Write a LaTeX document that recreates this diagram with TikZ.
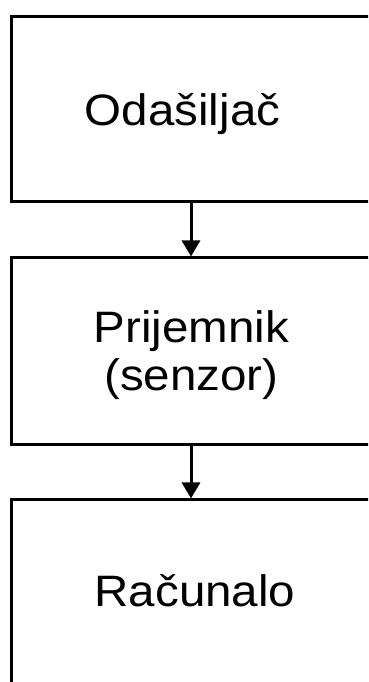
\documentclass[tikz,border=0pt]{standalone}
\usepackage{fontspec}
\setmainfont{Liberation Sans}[FakeStretch=1.08]
\usetikzlibrary{arrows.meta}
\begin{document}
\begin{tikzpicture}[x=1pt,y=1pt,
  blk/.style={draw=black, line width=3pt, rectangle, minimum width=369pt, inner sep=0pt},
  lbl/.style={font=\fontsize{44}{48}\selectfont, align=center, inner sep=0pt, anchor=base},
  arr/.style={line width=3pt, -{Triangle[width=18pt,length=16pt]}}]
\useasboundingbox (0,0) rectangle (368,682);
\clip (0,0) rectangle (368,682);
\node[blk, minimum height=185.5pt] (b1) at (195.5,572.75) {};
\node[blk, minimum height=187pt] (b2) at (195.5,330.5) {};
\node[blk, minimum height=200pt] (b3) at (195.5,82) {};
\coordinate (ax) at (191,0);
\node[lbl] (t1) at (182.5,556.5) {Odašiljač};
\node[lbl] (t2) at (191.5,291) {Prijemnik\\(senzor)};
\node[lbl] (t3) at (195,75) {Računalo};
\draw[arr] (b1.south -| ax) -- (b2.north -| ax);
\draw[arr] (b2.south -| ax) -- (b3.north -| ax);
\end{tikzpicture}
\end{document}
